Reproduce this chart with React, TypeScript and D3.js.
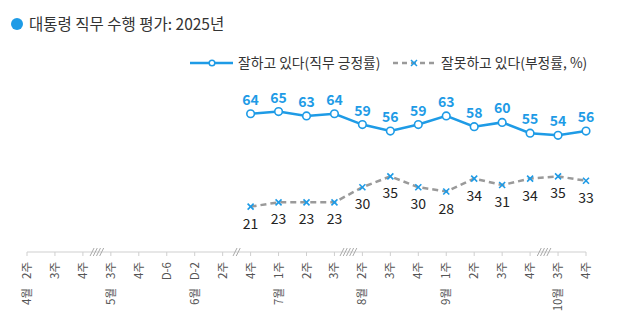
import React from "react";
import * as d3 from "d3";

const categories = [
  "4월 2주", "3주", "4주", "5월 3주", "4주", "D-6", "6월 D-2", "2주", "4주",
  "7월 1주", "2주", "3주", "8월 2주", "3주", "4주", "9월 1주", "2주", "3주", "4주",
  "10월 3주", "4주",
];
const dataStart = 8;
const positive = [64, 65, 63, 64, 59, 56, 59, 63, 58, 60, 55, 54, 56];
const negative = [21, 23, 23, 23, 30, 35, 30, 28, 34, 31, 34, 35, 33];
const breaks: [number, number][] = [[2, 4], [7, 2], [11, 5], [18, 4]];

const W = 619, H = 327;
const BLUE = "#1E9BE6";
const GRAY = "#9a9a9a";
const FONT = "'Noto Sans CJK KR', 'Noto Sans', sans-serif";

export default function App() {
  const x = d3.scalePoint<number>().domain(categories.map((_, i) => i)).range([27, 586]);
  const y = d3.scaleLinear().domain([0, 100]).range([252, 36]);
  const pts = (vals: number[]) => vals.map((v, i) => [x(i + dataStart)!, y(v)] as [number, number]);
  const line = d3.line();
  const posPts = pts(positive);
  const negPts = pts(negative);
  const step = x.step();

  return (
    <svg width={W} height={H} style={{ position: "absolute", left: 0, top: 0, background: "#fff" }} fontFamily={FONT}>
      {/* title */}
      <circle cx={17} cy={24} r={6} fill={BLUE} />
      <text x={29} y={30} fontSize={15.5} fill="#333">대통령 직무 수행 평가: 2025년</text>

      {/* legend */}
      <line x1={190} x2={233} y1={63} y2={63} stroke={BLUE} strokeWidth={2.5} />
      <circle cx={212} cy={63} r={2.8} fill="#fff" stroke={BLUE} strokeWidth={1.5} />
      <text x={238} y={68} fontSize={13.8} fill="#333">잘하고 있다(직무 긍정률)</text>
      <line x1={393} x2={437} y1={63} y2={63} stroke={GRAY} strokeWidth={2.5} strokeDasharray="5,4" />
      <g stroke={BLUE} strokeWidth={1.5}>
        <line x1={411} x2={417} y1={60} y2={66} />
        <line x1={411} x2={417} y1={66} y2={60} />
      </g>
      <text x={441} y={68} fontSize={13.8} fill="#333">잘못하고 있다(부정률, %)</text>

      {/* axis */}
      <line x1={27} x2={586} y1={y(0)} y2={y(0)} stroke="#cfcfcf" strokeWidth={1} />
      {categories.map((c, i) => {
        const parts = c.split(" ");
        const week = parts[parts.length - 1];
        const month = parts.length > 1 ? parts[0] : null;
        return (
          <g key={i}>
            <line x1={x(i)} x2={x(i)} y1={y(0)} y2={y(0) + 4} stroke="#cfcfcf" />
            <text
              transform={`translate(${x(i)! + 4},${y(0) + 10}) rotate(-90)`}
              textAnchor="end"
              fontSize={11.5}
              fill="#555"
            >{week}</text>
            {month && (
              <text
                transform={`translate(${x(i)! + 4},${y(0) + 36}) rotate(-90)`}
                textAnchor="end"
                fontSize={11.5}
                fill="#555"
              >{month}</text>
            )}
          </g>
        );
      })}
      {breaks.map(([i, n], k) => {
        const cx = x(i)! + step / 2;
        return (
          <g key={k} stroke="#aaa" strokeWidth={1}>
            {d3.range(n).map((j) => {
              const ox = cx + (j - (n - 1) / 2) * 3.2;
              return <line key={j} x1={ox - 2} x2={ox + 2} y1={y(0) + 4} y2={y(0) - 4} />;
            })}
          </g>
        );
      })}

      {/* negative series */}
      <path d={line(negPts)!} fill="none" stroke={GRAY} strokeWidth={2.5} strokeDasharray="6,4" />
      {negPts.map(([px, py], i) => (
        <g key={i}>
          <g stroke={BLUE} strokeWidth={1.6}>
            <line x1={px - 3} x2={px + 3} y1={py - 3} y2={py + 3} />
            <line x1={px - 3} x2={px + 3} y1={py + 3} y2={py - 3} />
          </g>
          <text x={px} y={py + 22} textAnchor="middle" fontSize={14} fill="#222">{negative[i]}</text>
        </g>
      ))}

      {/* positive series */}
      <path d={line(posPts)!} fill="none" stroke={BLUE} strokeWidth={2.5} />
      {posPts.map(([px, py], i) => (
        <g key={i}>
          <circle cx={px} cy={py} r={3.8} fill="#fff" stroke={BLUE} strokeWidth={1.6} />
          <text x={px} y={py - 9} textAnchor="middle" fontSize={14} fontWeight="bold" fill={BLUE}>{positive[i]}</text>
        </g>
      ))}
    </svg>
  );
}
